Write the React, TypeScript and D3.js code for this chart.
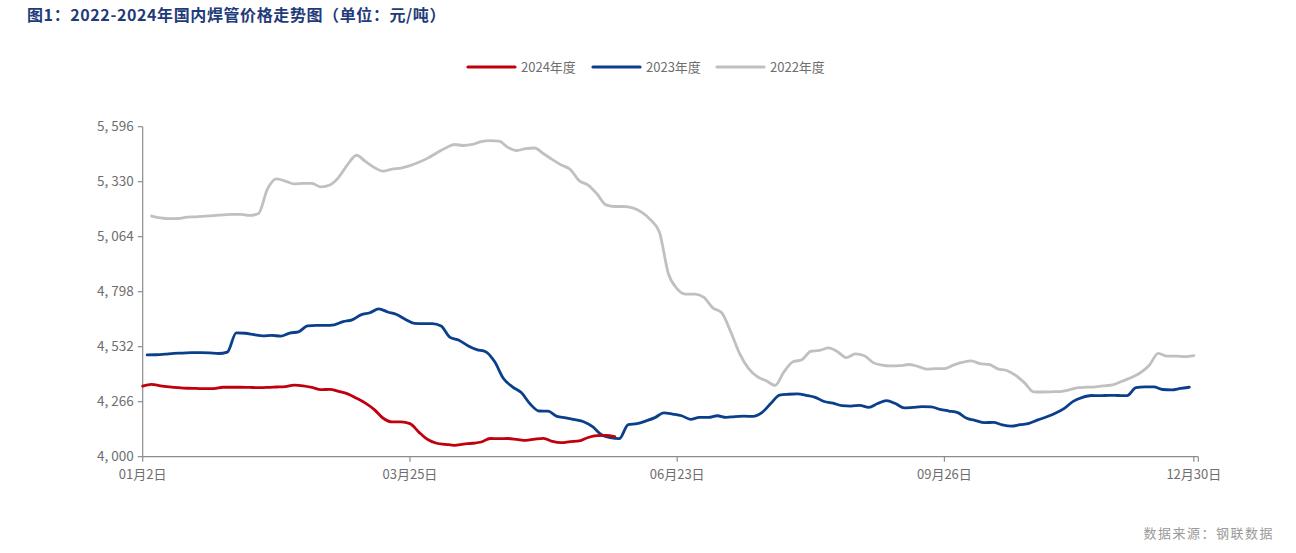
import React from "react";
import * as d3 from "d3";

const title = "图1：2022-2024年国内焊管价格走势图（单位：元/吨）";
const source = "数据来源：钢联数据";

const xTickIdx = [0, 60, 120, 180, 236];
const xTickLabels = ["01月2日", "03月25日", "06月23日", "09月26日", "12月30日"];
const xLastIdx = 237;
const yTicks = [4000, 4266, 4532, 4798, 5064, 5330, 5596];

const step = 2;

const start2022 = 2;
const values2022 = [
  5164, 5155, 5151, 5152, 5159, 5160, 5164, 5166, 5170, 5172, 5172, 5167, 5176, 5294, 5344, 5333,
  5319, 5322, 5322, 5305, 5314, 5351, 5413, 5458, 5428, 5399, 5381, 5391, 5396, 5408, 5424, 5444,
  5469, 5493, 5510, 5505, 5510, 5524, 5529, 5526, 5496, 5481, 5490, 5493, 5465, 5437, 5411, 5389,
  5335, 5314, 5271, 5218, 5210, 5210, 5203, 5183, 5146, 5087, 4887, 4812, 4786, 4786, 4770, 4720,
  4696, 4605, 4500, 4427, 4387, 4367, 4345, 4411, 4459, 4469, 4510, 4514, 4526, 4508, 4479, 4497,
  4488, 4455, 4443, 4439, 4440, 4446, 4437, 4424, 4426, 4426, 4443, 4456, 4463, 4450, 4446, 4425,
  4417, 4393, 4357, 4314, 4313, 4314, 4315, 4323, 4334, 4336, 4338, 4343, 4349, 4366, 4383, 4406,
  4442, 4500, 4486, 4486, 4484, 4489,
];

const start2023 = 1;
const values2023 = [
  4492, 4493, 4496, 4500, 4501, 4503, 4503, 4502, 4499, 4506, 4599, 4597, 4590, 4584, 4587, 4583,
  4598, 4604, 4633, 4635, 4635, 4638, 4653, 4662, 4686, 4696, 4715, 4700, 4688, 4664, 4645, 4644,
  4644, 4632, 4577, 4563, 4537, 4518, 4508, 4460, 4378, 4338, 4310, 4255, 4221, 4220, 4195, 4188,
  4179, 4169, 4145, 4106, 4092, 4087, 4155, 4160, 4173, 4189, 4212, 4206, 4198, 4181, 4190, 4190,
  4198, 4190, 4194, 4196, 4195, 4213, 4257, 4298, 4302, 4304, 4297, 4287, 4267, 4259, 4247, 4245,
  4248, 4239, 4257, 4271, 4257, 4236, 4239, 4242, 4241, 4229, 4221, 4213, 4186, 4175, 4165, 4166,
  4154, 4148, 4155, 4161, 4178, 4193, 4211, 4235, 4269, 4287, 4296, 4295, 4297, 4296, 4295, 4334,
  4338, 4338, 4325, 4323, 4330, 4336,
];

const start2024 = 0;
const values2024 = [
  4341, 4350, 4343, 4338, 4334, 4331, 4330, 4329, 4329, 4336, 4336, 4336, 4335, 4334, 4335, 4337,
  4339, 4346, 4343, 4335, 4324, 4326, 4316, 4304, 4283, 4259, 4228, 4186, 4168, 4168, 4160, 4119,
  4083, 4065, 4060, 4055, 4061, 4065, 4071, 4088, 4087, 4088, 4084, 4079, 4085, 4089, 4074, 4068,
  4073, 4076, 4093, 4102, 4103, 4097,
];

const seriesList = [
  { name: "2024年度", start: start2024, values: values2024, color: "#C0000C" },
  { name: "2023年度", start: start2023, values: values2023, color: "#0A3F8C" },
  { name: "2022年度", start: start2022, values: values2022, color: "#C0C0C0" },
];

const W = 1296;
const H = 553;
const left = 142.7;
const right = 1198.3;
const top = 126.7;
const bottom = 456.7;

export default function App() {
  const x = d3.scaleLinear().domain([0, xLastIdx]).range([left, right]);
  const y = d3.scaleLinear().domain([4000, 5596]).range([bottom, top]);
  const fmt = d3.format(",");
  const line = d3
    .line<[number, number]>()
    .x((d) => x(d[0]))
    .y((d) => y(d[1]))
    .curve(d3.curveMonotoneX);

  const axisColor = "#8c8c8c";
  const textColor = "#6e6e6e";
  const font = "'Noto Sans CJK SC', 'Noto Sans', sans-serif";

  const drawOrder = [seriesList[2], seriesList[1], seriesList[0]];

  const legendItems = [
    { s: seriesList[0], lx: 468 },
    { s: seriesList[1], lx: 593 },
    { s: seriesList[2], lx: 717 },
  ];

  return (
    <div style={{ position: "absolute", left: 0, top: 0, width: W, height: H, background: "#fff" }}>
      <svg width={W} height={H} style={{ display: "block" }}>
        <rect width={W} height={H} fill="#fff" />
        <text x={27} y={20.5} fontFamily={font} fontWeight={700} fontSize={16} letterSpacing={0.6} fill="#1F3B7A">
          {title}
        </text>

        {legendItems.map(({ s, lx }) => (
          <g key={s.name}>
            <line x1={lx} x2={lx + 47} y1={67} y2={67} stroke={s.color} strokeWidth={3.2} strokeLinecap="round" />
            <text x={lx + 53} y={71.5} fontFamily={font} fontSize={13} fill={textColor}>
              {s.name}
            </text>
          </g>
        ))}

        {/* y axis */}
        <line x1={left} x2={left} y1={top} y2={bottom} stroke={axisColor} strokeWidth={1.2} />
        {yTicks.map((t) => (
          <g key={t}>
            <line x1={left - 5} x2={left} y1={y(t)} y2={y(t)} stroke={axisColor} strokeWidth={1.2} />
            <text x={left - 9} y={y(t)} dy="0.35em" textAnchor="end" fontFamily={font} fontSize={13.5} fill={textColor}>
              {fmt(t).replace(",", ", ")}
            </text>
          </g>
        ))}

        {/* x axis */}
        <line x1={left} x2={right} y1={bottom} y2={bottom} stroke={axisColor} strokeWidth={1.2} />
        {xTickIdx.map((t, i) => (
          <g key={t}>
            <line x1={x(t)} x2={x(t)} y1={bottom} y2={bottom + 5} stroke={axisColor} strokeWidth={1.2} />
            <text x={x(t)} y={bottom + 22} textAnchor="middle" fontFamily={font} fontSize={13} fill={textColor}>
              {xTickLabels[i]}
            </text>
          </g>
        ))}
        <line x1={x(xLastIdx)} x2={x(xLastIdx)} y1={bottom} y2={bottom + 5} stroke={axisColor} strokeWidth={1.2} />

        {drawOrder.map((s) => {
          const pts: [number, number][] = s.values.map((v, i) => [s.start + i * step, v]);
          return (
            <path
              key={s.name}
              d={line(pts) || ""}
              fill="none"
              stroke={s.color}
              strokeWidth={2.8}
              strokeLinejoin="round"
              strokeLinecap="round"
            />
          );
        })}

        <text x={1274} y={538} textAnchor="end" fontFamily={font} fontSize={13} letterSpacing={1.5} fill="#9a9a9a">
          {source}
        </text>
      </svg>
    </div>
  );
}
